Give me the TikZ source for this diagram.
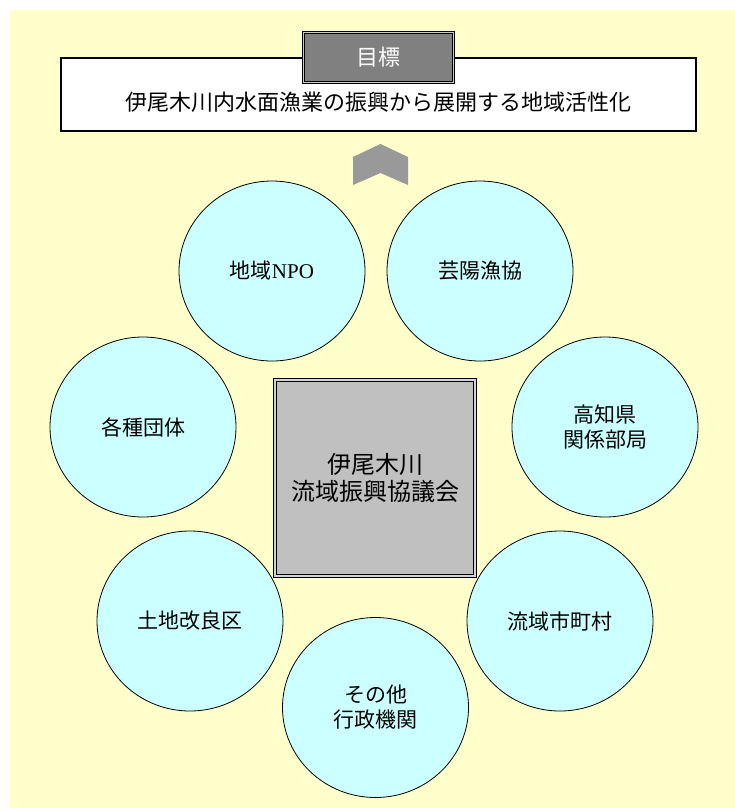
\documentclass[tikz,border=0pt]{standalone}
\usepackage{fontspec}
\setmainfont{Noto Sans CJK JP}
\newfontfamily\npofont{Liberation Serif}
\usepackage{tikz}
\usetikzlibrary{shapes.geometric, positioning}
\definecolor{cream}{RGB}{255,255,204}
\definecolor{aqua}{RGB}{204,255,255}
\definecolor{kyogigray}{RGB}{192,192,192}
\definecolor{goalgray}{RGB}{128,128,128}
\definecolor{chevgray}{RGB}{153,153,153}
\tikzset{
  mem/.style    ={ellipse, draw=black, line width=0.8pt, fill=aqua, inner sep=0pt,
                  minimum width=186pt, minimum height=180pt, align=center,
                  font=\fontsize{21}{25}\selectfont},
  kyogi/.style  ={rectangle, draw=black, line width=1pt, double=kyogigray!70,
                  double distance=1.6pt, fill=kyogigray, minimum width=200pt,
                  minimum height=196pt, align=center, font=\fontsize{24}{27}\selectfont},
  goalbox/.style={rectangle, draw=black, line width=1pt, double=goalgray!40,
                  double distance=1.4pt, fill=goalgray, text=white, minimum width=150pt,
                  minimum height=50pt, font=\fontsize{22}{26}\selectfont},
  banner/.style ={rectangle, draw=black, line width=1.6pt, fill=white,
                  minimum width=635pt, minimum height=73pt},
  chev/.style   ={fill=chevgray},
}
\begin{document}
\begin{tikzpicture}[x=1pt, y=-1pt]
\useasboundingbox (0,0) rectangle (735,811);
\fill[cream] (10,10) rectangle (735,808);
% goal
\node[banner] (bn) at (378.5,94.5) {};
\node[font=\fontsize{22}{26}\selectfont] (goaltxt) at ([yshift=-7.5pt]bn.center)
  {伊尾木川内水面漁業の振興から展開する地域活性化};
\node[goalbox] (goal) at (bn.north) {目標};
\fill[chev] (353,157) -- (380.5,144) -- (408,157) -- (408,185) -- (380.5,173) -- (353,185) -- cycle;
% council and members
\node[kyogi] (kyogi) at (375,478) {伊尾木川\\流域振興協議会};
\node[mem] (npo)    at (272,271)   {地域{\npofont NPO}};
\node[mem] (gyokyo) at (480,271)   {芸陽漁協};
\node[mem] (dantai) at (143,427)   {各種団体};
\node[mem] (ken)    at (605,427)   {高知県\\関係部局};
\node[mem] (kairyo) at (190,621)   {土地改良区};
\node[mem] (shicho) at (560,621)   {流域市町村};
\node[mem] (gyosei) at (375.5,707.5) {その他\\行政機関};
\end{tikzpicture}
\end{document}
